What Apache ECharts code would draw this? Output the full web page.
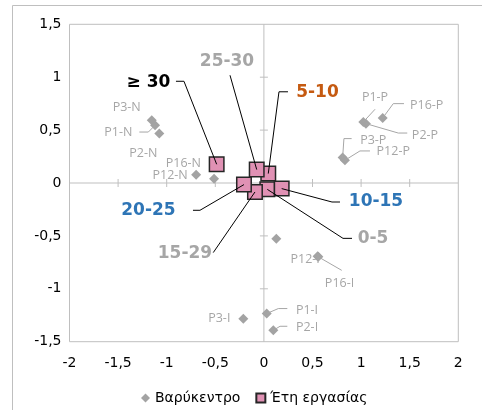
<!DOCTYPE html>
<html><head><meta charset="utf-8">
<script src="https://cdn.jsdelivr.net/npm/echarts@6/dist/echarts.min.js"></script>
<style>html,body{margin:0;padding:0;background:#fff}#chart{width:482px;height:410px}</style>
</head><body><div id="chart"></div>
<script>
// ---------- data ----------
const seriesNames = ['Βαρύκεντρο', 'Έτη εργασίας'];
const centroidNames = ['P1-N','P2-N','P3-N','P12-N','P16-N','P1-P','P2-P','P3-P','P12-P','P16-P','P1-I','P2-I','P3-I','P12-I','P16-I',''];
const centroidX = [-1.12, -1.076, -1.154, -0.697, -0.513, 1.023, 1.05, 0.81, 0.834, 1.222, 0.029, 0.097, -0.212, 0.553, 0.56, 0.128];
const centroidY = [0.545, 0.467, 0.592, 0.079, 0.041, 0.577, 0.561, 0.24, 0.215, 0.614, -1.234, -1.392, -1.282, -0.693, -0.698, -0.526];
const yearGroups = ['0-5','5-10','10-15','15-29','20-25','25-30','≥ 30'];
const yearsX = [0.035, 0.045, 0.183, -0.092, -0.205, -0.074, -0.486];
const yearsY = [-0.06, 0.089, -0.053, -0.085, -0.015, 0.127, 0.177];
const xTicks = [-2, -1.5, -1, -0.5, 0, 0.5, 1, 1.5, 2];
const yTicks = [-1.5, -1, -0.5, 0, 0.5, 1, 1.5];

// ---------- styles / label layout (pixel offsets) ----------
const centroidLabelOffset = [[-36.7,6.7],[-16,20],[-25,-13.3],[-26,0.7],[-30.7,-15],[11.7,-25],[59,11.7],[30.6,-17.3],[48.3,-9.3],[44,-12.7],[40.3,-3.3],[33.7,-3.3],[-24,0],[-12.5,3.3],[21.2,26.2],[0,0]];
const centroidLeader = [[[-6.7,6.7],[-15.7,6.7]], null, null, null, null, [[11.7,-12.7]], [[32.3,9.4],[41.3,9.4]], [[1.3,-19],[9,-19]], [[15,-9.3],[25,-9.3]], [[10.6,-14.4],[21.3,-14.4]], [[11.6,-5],[20.6,-5]], [[6.7,-4],[14,-4]], null, null, [[23.4,13.5]], null];
const yearLabelOffset = [[105.7,49.3],[49.2,-81.3],[94.3,13.4],[-70,61.3],[-95.5,25.7],[-29.7,-108.3],[-68.2,-82]];
const yearLeader = [[[75.7,49],[84.7,49]], [[10.7,-81.8],[19.7,-81.8]], [[50.3,13.4],[58.3,13.4]], [[-41.7,60.6]], [[-44,25.7],[-51,25.7]], [[-26.7,-94.3]], [[-32.7,-83],[-40.7,-83]]];
const yearLabelColor = ['#a6a6a6','#c55a11','#2e75b6','#a6a6a6','#2e75b6','#a6a6a6','#000000'];
const axisColor = '#bfbfbf';
const grayText = '#a6a6a6';
const pink = '#e091b4';

const fmt = v => String(v).replace('.', ',');

const chart = echarts.init(document.getElementById('chart'));

function leaderRenderer(leaders, color) {
  return function (params, api) {
    const lead = leaders[params.dataIndex];
    if (!lead) return null;
    const p = api.coord([api.value(0), api.value(1)]);
    const pts = [p].concat(lead.map(d => [p[0] + d[0], p[1] + d[1]]));
    return { type: 'polyline', shape: { points: pts }, style: { stroke: color, lineWidth: 1, fill: null } };
  };
}

const option = {
  animation: false,
  graphic: [{ type: 'rect', shape: { x: 12.5, y: 5.5, width: 490, height: 420 }, style: { fill: 'none', stroke: '#bfbfbf', lineWidth: 1 }, silent: true }],
  grid: { left: 69.5, right: 23.7, top: 24.3, bottom: 68.3, show: true, borderColor: axisColor, borderWidth: 1 },
  xAxis: {
    type: 'value', min: -2, max: 2, interval: 0.5,
    axisLine: { show: false }, axisTick: { show: false }, splitLine: { show: false },
    axisLabel: { formatter: fmt, color: '#000', fontSize: 14, fontFamily: 'DejaVu Sans', margin: 15 }
  },
  yAxis: {
    type: 'value', min: -1.5, max: 1.5, interval: 0.5,
    axisLine: { show: false }, axisTick: { show: false }, splitLine: { show: false },
    axisLabel: { formatter: fmt, color: '#000', fontSize: 14, fontFamily: 'DejaVu Sans', margin: 8 }
  },
  legend: {
    left: 136, top: 386, itemWidth: 9, itemHeight: 9, itemGap: 15,
    textStyle: { fontSize: 14, fontFamily: 'DejaVu Sans', color: '#000' },
    data: [{ name: seriesNames[0], icon: 'diamond' }, { name: seriesNames[1], icon: 'rect' }]
  },
  series: [
    {
      type: 'custom', silent: true, z: 1,
      data: [[0, 0]],
      renderItem: function (params, api) {
        const o = api.coord([0, 0]);
        const l = api.coord([xTicks[0], 0]), r = api.coord([xTicks[xTicks.length - 1], 0]);
        const t = api.coord([0, yTicks[yTicks.length - 1]]), b = api.coord([0, yTicks[0]]);
        const st = { stroke: axisColor, lineWidth: 1 };
        const ch = [
          { type: 'line', shape: { x1: l[0], y1: o[1], x2: r[0], y2: o[1] }, style: st },
          { type: 'line', shape: { x1: o[0], y1: t[1], x2: o[0], y2: b[1] }, style: st }
        ];
        xTicks.slice(1, -1).forEach(v => { if (v === 0) return; const p = api.coord([v, 0]); ch.push({ type: 'line', shape: { x1: p[0], y1: p[1] - 4, x2: p[0], y2: p[1] + 4 }, style: st }); });
        yTicks.slice(1, -1).forEach(v => { if (v === 0) return; const p = api.coord([0, v]); ch.push({ type: 'line', shape: { x1: p[0] - 4, y1: p[1], x2: p[0] + 4, y2: p[1] }, style: st }); });
        return { type: 'group', children: ch };
      }
    },
    {
      name: seriesNames[0], type: 'scatter', symbol: 'diamond', symbolSize: 10, z: 2,
      itemStyle: { color: '#a3a3a3', opacity: 1 },
      data: centroidNames.map((n, i) => ({ name: n, value: [centroidX[i], centroidY[i]] })),
      label: { show: true, position: 'inside', formatter: '{b}', color: grayText, fontSize: 12.5, fontFamily: 'Open Sans' },
      labelLayout: function (p) { const o = centroidLabelOffset[p.dataIndex]; return { dx: o[0], dy: o[1] }; }
    },
    {
      name: seriesNames[1], type: 'scatter', symbol: 'rect', symbolSize: 14.5, z: 2,
      itemStyle: { color: pink, borderColor: '#262626', borderWidth: 1.5, opacity: 1 },
      data: yearGroups.map((n, i) => ({ name: n, value: [yearsX[i], yearsY[i]], label: { color: yearLabelColor[i] } })),
      label: { show: true, position: 'inside', formatter: '{b}', fontSize: 17, fontWeight: 'bold', fontFamily: 'DejaVu Sans' },
      labelLayout: function (p) { const o = yearLabelOffset[p.dataIndex]; return { dx: o[0], dy: o[1] }; }
    },
    {
      type: 'custom', silent: true, z: 4,
      data: centroidNames.map((n, i) => [centroidX[i], centroidY[i]]),
      renderItem: leaderRenderer(centroidLeader, grayText)
    },
    {
      type: 'custom', silent: true, z: 4,
      data: yearGroups.map((n, i) => [yearsX[i], yearsY[i]]),
      renderItem: leaderRenderer(yearLeader, '#000')
    }
  ]
};
chart.setOption(option);
</script></body></html>
